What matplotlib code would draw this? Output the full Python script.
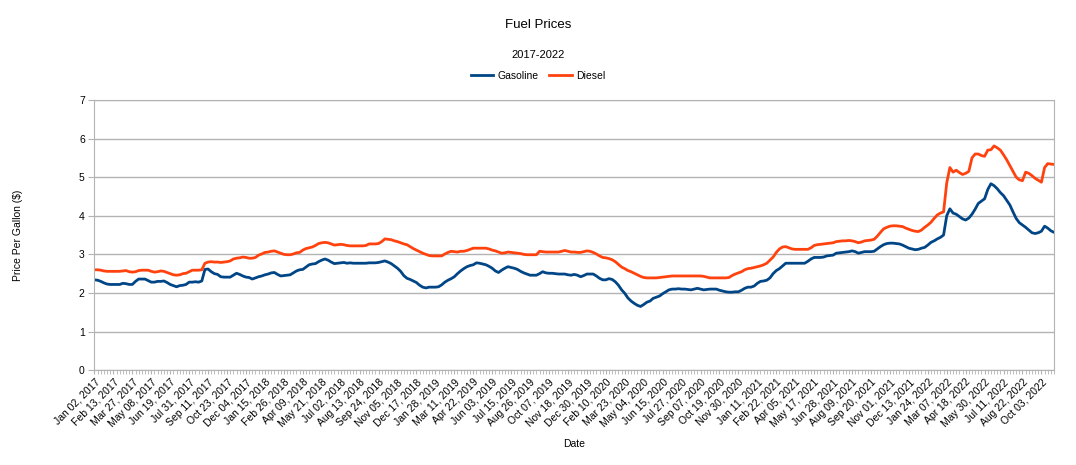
import matplotlib
matplotlib.use("Agg")
import matplotlib.pyplot as plt
import pandas as pd

plt.rcParams['font.family'] = ['Liberation Sans', 'DejaVu Sans']

# weekly prices, first week Jan 02, 2017
start_date = "2017-01-02"

gasoline = [
    2.34, 2.33, 2.30, 2.26, 2.23, 2.22, 2.22, 2.22, 2.22, 2.25,
    2.24, 2.22, 2.22, 2.30, 2.36, 2.36, 2.36, 2.32, 2.28, 2.28,
    2.30, 2.30, 2.31, 2.27, 2.22, 2.19, 2.16, 2.19, 2.20, 2.22,
    2.28, 2.28, 2.29, 2.28, 2.31, 2.61, 2.62, 2.55, 2.50, 2.48,
    2.42, 2.41, 2.41, 2.41, 2.46, 2.51, 2.48, 2.44, 2.41, 2.40,
    2.36, 2.39, 2.42, 2.44, 2.47, 2.49, 2.52, 2.53, 2.48, 2.44,
    2.45, 2.46, 2.47, 2.52, 2.57, 2.60, 2.61, 2.67, 2.73, 2.75,
    2.76, 2.81, 2.85, 2.88, 2.85, 2.80, 2.76, 2.77, 2.78, 2.79,
    2.77, 2.78, 2.77, 2.77, 2.77, 2.77, 2.77, 2.78, 2.78, 2.78,
    2.79, 2.81, 2.83, 2.80, 2.76, 2.70, 2.64, 2.56, 2.45, 2.38,
    2.35, 2.31, 2.27, 2.20, 2.15, 2.13, 2.15, 2.15, 2.15, 2.16,
    2.21, 2.28, 2.33, 2.37, 2.42, 2.50, 2.57, 2.63, 2.68, 2.71,
    2.73, 2.78, 2.77, 2.75, 2.73, 2.69, 2.64, 2.57, 2.53, 2.59,
    2.64, 2.68, 2.66, 2.64, 2.61, 2.56, 2.52, 2.49, 2.46, 2.46,
    2.46, 2.50, 2.55, 2.52, 2.51, 2.51, 2.50, 2.49, 2.49, 2.49,
    2.47, 2.46, 2.48, 2.46, 2.42, 2.45, 2.49, 2.49, 2.49, 2.44,
    2.38, 2.34, 2.34, 2.37, 2.35, 2.29, 2.20, 2.08, 1.99, 1.87,
    1.79, 1.73, 1.68, 1.65, 1.70, 1.76, 1.79, 1.86, 1.89, 1.92,
    1.98, 2.03, 2.08, 2.10, 2.10, 2.11, 2.10, 2.10, 2.09, 2.08,
    2.10, 2.12, 2.10, 2.08, 2.09, 2.10, 2.10, 2.10, 2.07, 2.05,
    2.03, 2.02, 2.02, 2.03, 2.03, 2.07, 2.12, 2.15, 2.15, 2.18,
    2.25, 2.30, 2.31, 2.33, 2.39, 2.50, 2.58, 2.63, 2.70, 2.77,
    2.77, 2.77, 2.77, 2.77, 2.77, 2.77, 2.82, 2.88, 2.92, 2.92,
    2.92, 2.93, 2.96, 2.97, 2.98, 3.03, 3.04, 3.05, 3.06, 3.07,
    3.09, 3.07, 3.03, 3.05, 3.07, 3.07, 3.07, 3.08, 3.14, 3.20,
    3.25, 3.28, 3.29, 3.29, 3.28, 3.27, 3.24, 3.20, 3.16, 3.14,
    3.12, 3.13, 3.16, 3.18, 3.24, 3.31, 3.35, 3.40, 3.44, 3.50,
    4.00, 4.18, 4.07, 4.04, 3.98, 3.92, 3.89, 3.94, 4.04, 4.17,
    4.32, 4.38, 4.44, 4.68, 4.83, 4.78, 4.70, 4.60, 4.52, 4.40,
    4.28, 4.10, 3.93, 3.82, 3.76, 3.70, 3.63, 3.56, 3.54, 3.56,
    3.60, 3.73, 3.68, 3.61, 3.57,
]

diesel = [
    2.60, 2.60, 2.59, 2.57, 2.56, 2.56, 2.56, 2.56, 2.56, 2.57,
    2.58, 2.55, 2.54, 2.55, 2.58, 2.59, 2.59, 2.59, 2.56, 2.54,
    2.55, 2.57, 2.56, 2.53, 2.50, 2.47, 2.46, 2.47, 2.50, 2.51,
    2.55, 2.59, 2.59, 2.59, 2.60, 2.77, 2.80, 2.81, 2.80, 2.80,
    2.79, 2.80, 2.81, 2.83, 2.88, 2.90, 2.91, 2.93, 2.92, 2.90,
    2.90, 2.92, 2.98, 3.01, 3.05, 3.06, 3.08, 3.09, 3.06, 3.03,
    3.00, 2.99, 2.99, 3.01, 3.04, 3.05, 3.11, 3.15, 3.17, 3.19,
    3.23, 3.28, 3.30, 3.31, 3.30, 3.27, 3.24, 3.25, 3.26, 3.25,
    3.23, 3.22, 3.22, 3.22, 3.22, 3.22, 3.23, 3.27, 3.27, 3.27,
    3.28, 3.33, 3.40, 3.39, 3.38, 3.35, 3.33, 3.30, 3.27, 3.25,
    3.20, 3.15, 3.11, 3.07, 3.03, 3.00, 2.97, 2.96, 2.96, 2.96,
    2.96, 3.01, 3.05, 3.08, 3.07, 3.06, 3.08, 3.08, 3.10, 3.13,
    3.16, 3.16, 3.16, 3.16, 3.16, 3.14, 3.11, 3.09, 3.06, 3.03,
    3.04, 3.06, 3.05, 3.04, 3.03, 3.02, 3.00, 2.99, 2.99, 2.99,
    2.99, 3.08, 3.07, 3.06, 3.06, 3.06, 3.06, 3.06, 3.08, 3.10,
    3.08, 3.06, 3.06, 3.05, 3.05, 3.07, 3.09, 3.08, 3.05, 3.01,
    2.96, 2.92, 2.91, 2.89, 2.86, 2.81, 2.74, 2.67, 2.63, 2.58,
    2.55, 2.51, 2.47, 2.43, 2.40, 2.39, 2.39, 2.39, 2.39, 2.40,
    2.41, 2.42, 2.43, 2.44, 2.44, 2.44, 2.44, 2.44, 2.44, 2.44,
    2.44, 2.44, 2.44, 2.43, 2.41, 2.39, 2.39, 2.39, 2.39, 2.39,
    2.39, 2.40, 2.45, 2.49, 2.52, 2.55, 2.60, 2.63, 2.64, 2.66,
    2.68, 2.70, 2.73, 2.77, 2.85, 2.93, 3.05, 3.14, 3.19, 3.20,
    3.17, 3.14, 3.13, 3.13, 3.13, 3.13, 3.13, 3.17, 3.23, 3.25,
    3.26, 3.27, 3.28, 3.29, 3.30, 3.33, 3.34, 3.35, 3.35, 3.36,
    3.35, 3.33, 3.30, 3.32, 3.35, 3.36, 3.37, 3.39, 3.47, 3.57,
    3.66, 3.70, 3.73, 3.74, 3.74, 3.73, 3.72, 3.68, 3.65, 3.62,
    3.60, 3.59, 3.63, 3.70, 3.76, 3.83, 3.93, 4.02, 4.07, 4.10,
    4.85, 5.25, 5.13, 5.18, 5.12, 5.07, 5.10, 5.15, 5.50, 5.60,
    5.60, 5.56, 5.54, 5.70, 5.71, 5.81, 5.76, 5.70, 5.58, 5.45,
    5.30, 5.15, 5.00, 4.93, 4.91, 5.13, 5.10, 5.04, 4.97, 4.92,
    4.87, 5.25, 5.35, 5.34, 5.33,
]

dates = pd.date_range(start_date, periods=len(gasoline), freq="7D")
date_labels = [d.strftime("%b %d, %Y") for d in dates]

fig = plt.figure(figsize=(10.76, 4.65), dpi=100)
ax = fig.add_axes([0.0878, 0.204, 0.8918, 0.581])

x = list(range(len(gasoline)))
ax.plot(x, gasoline, color="#004586", lw=2.0, label="Gasoline")
ax.plot(x, diesel, color="#ff420e", lw=2.0, label="Diesel")

ax.set_xlim(0, len(gasoline) - 1)
ax.set_ylim(0, 7)
ax.set_yticks(range(0, 8))
ax.yaxis.grid(True, color="#b3b3b3", lw=1)
ax.set_axisbelow(True)

major = x[::6][:51]
ax.set_xticks(major)
ax.set_xticklabels([date_labels[i] for i in major], rotation=45, ha="right",
                   rotation_mode="anchor", fontsize=7.5)
ax.set_xticks(x, minor=True)
ax.tick_params(axis="x", which="both", length=3, color="#b3b3b3", pad=2)
ax.tick_params(axis="y", length=4, color="#b3b3b3", labelsize=7.5, pad=3)

for s in ax.spines.values():
    s.set_color("#b3b3b3")

ax.set_xlabel("Date", fontsize=7.5, labelpad=7)
ax.set_ylabel("Price Per Gallon ($)", fontsize=7.5, labelpad=40)

fig.text(0.5, 0.946, "Fuel Prices", ha="center", va="center", fontsize=9.5)
fig.text(0.5, 0.882, "2017-2022", ha="center", va="center", fontsize=8)
fig.legend(loc="center", bbox_to_anchor=(0.5, 0.837), ncol=2, frameon=False,
           fontsize=7.5, handlelength=2.2, handletextpad=0.4, columnspacing=1.0)

fig.savefig("out.png", dpi=100)
